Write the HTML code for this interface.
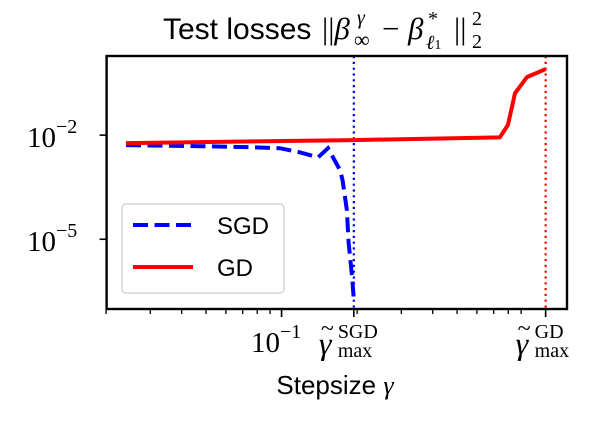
<!DOCTYPE html>
<html><head><meta charset="utf-8"><style>
body{margin:0;background:#fff;}
svg{display:block;}
.s{font-family:"Liberation Sans","DejaVu Sans",sans-serif;}
.m{font-family:"Liberation Serif","DejaVu Serif",serif;}
</style></head><body>
<svg id="c" width="608" height="432" viewBox="0 0 608 432">
<g>
<text class="s" x="163" y="39" font-size="30">Test losses</text>
<text class="m" x="322" y="39" font-size="31">||<tspan font-style="italic">β</tspan></text>
<text class="m" x="357" y="24" font-size="20" font-style="italic">γ</text>
<text class="m" x="354" y="47" font-size="22">∞</text>
<text class="m" x="382" y="39" font-size="31">−</text>
<text class="m" x="408" y="39" font-size="31" font-style="italic">β</text>
<text class="m" x="428" y="25" font-size="20">*</text>
<text class="m" x="426" y="49" font-size="20" font-style="italic">ℓ<tspan font-size="14" font-style="normal">1</tspan></text>
<text class="m" x="454" y="39" font-size="31">||</text>
<text class="m" x="472" y="25" font-size="20">2</text>
<text class="m" x="472" y="48" font-size="20">2</text>
</g>
<g id="plot"></g>
<text class="s" x="335" y="394" font-size="26" text-anchor="middle">Stepsize <tspan class="m" font-style="italic">γ</tspan></text>
</svg>
<script>
const sgdX=[0.024,0.0472,0.0748,0.0984,0.118,0.140,0.153,0.171,0.175,0.182,0.185,0.191,0.194];
const sgdY=[5.15e-3,4.8e-3,4.5e-3,4.2e-3,3.2e-3,2.3e-3,4.2e-3,9.8e-4,5.0e-4,6.9e-5,7.8e-6,8.1e-7,1.76e-7];
const gdX=[0.024,0.194,0.74,0.797,0.851,0.949,1.127];
const gdY=[5.9e-3,7.2e-3,8.6e-3,0.0194,0.162,0.469,0.80];
const gammaSGD=0.194, gammaGD=1.127;
const yTicks=[-2,-5];
const xMinor=[0.02,0.03,0.04,0.05,0.06,0.07,0.08,0.09,0.2,0.3,0.4,0.5,0.6,0.7,0.8,0.9];

const L=106.6,R=567,T=56,B=309;
const xl0=-1.697,xl1=0.137,yl0=-7.01,yl1=0.28;
const X=v=>L+(Math.log10(v)-xl0)/(xl1-xl0)*(R-L);
const Y=v=>B-(Math.log10(v)-yl0)/(yl1-yl0)*(B-T);
const NS='http://www.w3.org/2000/svg';
const g=document.getElementById('plot');
function mk(t,a,p){const e=document.createElementNS(NS,t);for(const k in a)e.setAttribute(k,a[k]);(p||g).appendChild(e);return e;}

let v1=mk('line',{x1:X(gammaSGD),x2:X(gammaSGD),y1:T,y2:B,stroke:'#0000ff','stroke-width':2.2,'stroke-dasharray':'2.2 3.6'});


let v2=mk('line',{x1:X(gammaGD),x2:X(gammaGD),y1:T,y2:B,stroke:'#ff0000','stroke-width':2.2,'stroke-dasharray':'2.2 3.6'});



let p1=mk('polyline',{points:sgdX.map((x,i)=>X(x)+','+Y(sgdY[i])).join(' '),fill:'none',stroke:'#0000ff','stroke-width':4,'stroke-dasharray':'15 6.5'});


let p2=mk('polyline',{points:gdX.map((x,i)=>X(x)+','+Y(gdY[i])).join(' '),fill:'none',stroke:'#ff0000','stroke-width':4,'stroke-linejoin':'round'});



let fr=mk('rect',{x:L,y:T,width:R-L,height:B-T,fill:'none',stroke:'#000','stroke-width':2.4});



yTicks.forEach(t=>{const y=Y(Math.pow(10,t));
 mk('line',{x1:L-7,x2:L,y1:y,y2:y,stroke:'#000','stroke-width':1.6});
 const tx=mk('text',{x:27,y:y+12,'font-size':29,class:'m'});
 
 
 tx.innerHTML='10<tspan font-size="20" dy="-14">−'+(-t)+'</tspan>';
});
xMinor.forEach(v=>{const x=X(v);mk('line',{x1:x,x2:x,y1:B,y2:B+5,stroke:'#000','stroke-width':1.3});});
[0.1,gammaSGD,gammaGD].forEach(v=>{const x=X(v);mk('line',{x1:x,x2:x,y1:B,y2:B+8,stroke:'#000','stroke-width':1.6});});
let t1=mk('text',{x:251,y:352,'font-size':29,class:'m'});


t1.innerHTML='10<tspan font-size="20" dy="-14">−1</tspan>';
[[gammaSGD,'SGD',-35],[gammaGD,'GD',-30]].forEach(a=>{const x=X(a[0])+a[2];
 const gg=mk('g',{});
 
 
 mk('text',{x:x,y:354,'font-size':32,'font-style':'italic',class:'m'},gg).textContent='γ';
 mk('text',{x:x+2,y:336,'font-size':24,class:'m'},gg).textContent='~';
 mk('text',{x:x+19,y:338,'font-size':20,class:'m'},gg).textContent=a[1];
 mk('text',{x:x+19,y:357,'font-size':20,class:'m'},gg).textContent='max';
});

const lg=mk('g',{});


mk('rect',{x:122,y:204,width:162,height:89,rx:4,fill:'#fff','fill-opacity':0.8,stroke:'#d6d6d6','stroke-width':1.5},lg);
mk('line',{x1:133,x2:193,y1:225,y2:225,stroke:'#0000ff','stroke-width':4,'stroke-dasharray':'15 6.5'},lg);
mk('line',{x1:133,x2:193,y1:267,y2:267,stroke:'#ff0000','stroke-width':4},lg);
let e1=mk('text',{x:217,y:234,'font-size':24,class:'s'},lg);e1.textContent='SGD';


let e2=mk('text',{x:217,y:276,'font-size':24,class:'s'},lg);e2.textContent='GD';


</script>
</body></html>
